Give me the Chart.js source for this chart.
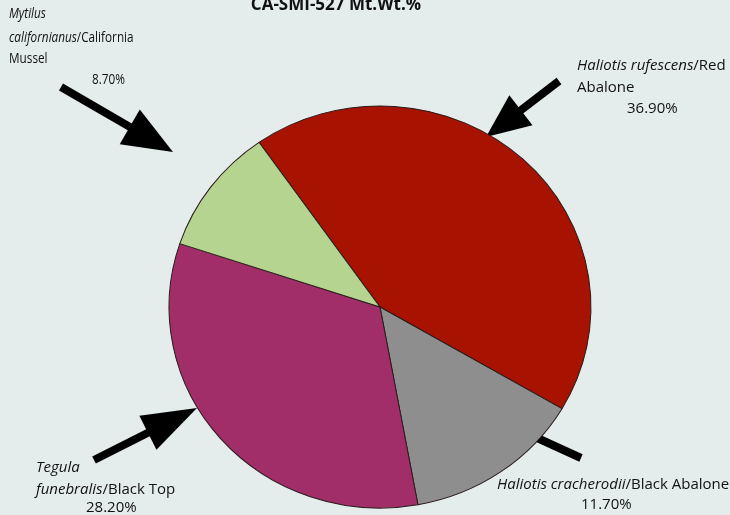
<!DOCTYPE html>
<html>
<head>
<meta charset="utf-8">
<script src="https://cdn.jsdelivr.net/npm/chart.js@4.4.0/dist/chart.umd.min.js"></script>
<style>
  html, body { margin: 0; padding: 0; background: #e5ecec; }
  #wrap { width: 730px; height: 515px; position: relative; }
</style>
</head>
<body>
<div id="wrap"><canvas id="shellPie"></canvas></div>
<script>
const species = ['Haliotis rufescens/Red Abalone', 'Haliotis cracherodii/Black Abalone',
  'Tegula funebralis/Black Top', 'Mytilus californianus/California Mussel'];
const mtWtPct = [36.9, 11.7, 28.2, 8.7];
const pctLabels = ['36.90%', '11.70%', '28.20%', '8.70%'];
const sliceColors = ['#a81200', '#8e8e8e', '#a12e69', '#b5d48f'];

// callout boxes: font size, horizontal squeeze, lines [x, baselineY, segments or pct index]
const callouts = [
  { size: 15, sx: 1, lines: [
    [577, 70, [['Haliotis rufescens', true], ['/Red', false]]],
    [577, 92, [['Abalone', false]]],
    [627, 113, 0]] },
  { size: 15, sx: 1, lines: [
    [497, 489, [['Haliotis cracherodii', true], ['/Black Abalone', false]]],
    [581, 509, 1]] },
  { size: 15, sx: 1, lines: [
    [36, 472, [['Tegula', true]]],
    [36, 494, [['funebralis', true], ['/Black Top', false]]],
    [86, 512, 2]] },
  { size: 14, sx: 0.84, lines: [
    [9, 18, [['Mytilus', true]]],
    [9, 42, [['californianus', true], ['/California', false]]],
    [9, 63, [['Mussel', false]]],
    [92, 84, 3]] }
];

// arrows: [startX, startY, tipX, tipY, headLen, headWidth]
const arrows = [
  [61, 87, 173, 152, 50, 40],
  [559, 81, 486, 137, 44, 38],
  [94, 460, 197, 408, 55, 38],
  [581, 458, 500, 421, 0, 0]
];

const FONT = '"Open Sans", "Noto Sans", sans-serif';
const PIE_SX = 1.024, PIE_SY = 0.976;

function drawArrow(ctx, a) {
  const [x0, y0, x1, y1, hl, hw] = a;
  const ang = Math.atan2(y1 - y0, x1 - x0);
  const bx = x1 - Math.cos(ang) * hl, by = y1 - Math.sin(ang) * hl;
  ctx.strokeStyle = '#000';
  ctx.lineWidth = 8;
  ctx.lineCap = 'butt';
  ctx.beginPath();
  ctx.moveTo(x0, y0);
  ctx.lineTo(hl ? bx + Math.cos(ang) * 4 : x1, hl ? by + Math.sin(ang) * 4 : y1);
  ctx.stroke();
  if (hl) {
    const nx = -Math.sin(ang) * hw / 2, ny = Math.cos(ang) * hw / 2;
    ctx.fillStyle = '#000';
    ctx.beginPath();
    ctx.moveTo(x1, y1);
    ctx.lineTo(bx + nx, by + ny);
    ctx.lineTo(bx - nx, by - ny);
    ctx.closePath();
    ctx.fill();
  }
}

function drawLine(ctx, segs, x, y, size, sx) {
  ctx.save();
  ctx.translate(x, y);
  ctx.scale(sx, 1);
  let cx = 0;
  segs.forEach(([t, it]) => {
    ctx.font = (it ? 'italic ' : '') + size + 'px ' + FONT;
    ctx.fillText(t, cx, 0);
    cx += ctx.measureText(t).width;
  });
  ctx.restore();
}

const decor = {
  id: 'decor',
  beforeDraw(chart) {
    const ctx = chart.ctx;
    ctx.save();
    ctx.fillStyle = '#e5ecec';
    ctx.fillRect(0, 0, chart.width, chart.height);
    ctx.restore();
  },
  beforeDatasetsDraw(chart) {
    const ctx = chart.ctx;
    ctx.save();
    arrows.forEach(a => drawArrow(ctx, a));
    ctx.restore();
    // the source pie is slightly wider than tall
    const a = chart.chartArea;
    const cx = (a.left + a.right) / 2, cy = (a.top + a.bottom) / 2;
    ctx.save();
    ctx.translate(cx, cy);
    ctx.scale(PIE_SX, PIE_SY);
    ctx.translate(-cx, -cy);
  },
  afterDatasetsDraw(chart) {
    chart.ctx.restore();
  },
  afterDraw(chart) {
    const ctx = chart.ctx;
    ctx.save();
    ctx.fillStyle = '#111';
    ctx.textBaseline = 'alphabetic';
    ctx.textAlign = 'center';
    ctx.font = 'bold 17px ' + FONT;
    ctx.fillText('CA-SMI-527 Mt.Wt.%', 336, 10);
    ctx.textAlign = 'left';
    callouts.forEach(c => {
      c.lines.forEach(([x, y, segs]) => {
        if (typeof segs === 'number') segs = [[pctLabels[segs], false]];
        drawLine(ctx, segs, x, y, c.size, c.sx);
      });
    });
    ctx.restore();
  }
};

new Chart(document.getElementById('shellPie'), {
  type: 'pie',
  data: {
    labels: species,
    datasets: [{
      data: mtWtPct,
      backgroundColor: sliceColors,
      borderColor: '#2b1c1c',
      borderWidth: 1,
      radius: 206
    }]
  },
  options: {
    responsive: true,
    maintainAspectRatio: false,
    animation: false,
    rotation: -35,
    layout: { padding: { top: 101, bottom: 2, left: 30, right: 0 } },
    events: [],
    plugins: {
      legend: { display: false },
      tooltip: { enabled: false }
    }
  },
  plugins: [decor]
});
</script>
</body>
</html>
